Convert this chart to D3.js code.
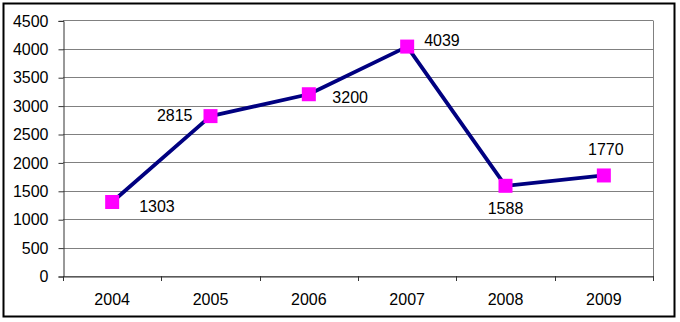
<!DOCTYPE html>
<html>
<head>
<meta charset="utf-8">
<script src="https://cdn.jsdelivr.net/npm/d3@7"></script>
<style>
  body { margin: 0; background: #fff; }
  svg text { font-family: "Liberation Sans", Arial, sans-serif; font-size: 16px; fill: #000; }
</style>
</head>
<body>
<script>
// chart data
var years = ["2004", "2005", "2006", "2007", "2008", "2009"];
var values = [1303, 2815, 3200, 4039, 1588, 1770];
var yTicks = [0, 500, 1000, 1500, 2000, 2500, 3000, 3500, 4000, 4500];
// label offsets relative to the point: [dx, dy, anchor]
var labelPos = [[27, 10, "start"], [-18, 4.5, "end"], [23.5, 8.5, "start"], [17, -0.5, "start"], [0, 28, "middle"], [2, -20.5, "middle"]];

var w = 680, h = 322;
var plotLeft = 63, plotRight = 653, plotTop = 20.4, plotBottom = 276;

var svg = d3.select("body").append("svg")
  .attr("width", w)
  .attr("height", h);

// outer frame
svg.append("rect")
  .attr("x", 3.5).attr("y", 3.5)
  .attr("width", 671).attr("height", 313)
  .attr("fill", "#fff")
  .attr("stroke", "#000")
  .attr("stroke-width", 2);

var xScale = d3.scaleBand()
  .domain(years)
  .range([plotLeft, plotRight]);

var yScale = d3.scaleLinear()
  .domain([0, 4500])
  .range([plotBottom, plotTop]);

// gridlines
svg.append("g")
  .selectAll("line")
  .data(yTicks)
  .enter()
  .append("line")
  .attr("x1", plotLeft).attr("x2", plotRight)
  .attr("y1", (d) => Math.round(yScale(d)) + 0.5)
  .attr("y2", (d) => Math.round(yScale(d)) + 0.5)
  .attr("stroke", "#808080")
  .attr("stroke-width", 1);

// right border of plot area
svg.append("line")
  .attr("x1", plotRight + 0.5).attr("x2", plotRight + 0.5)
  .attr("y1", Math.round(plotTop) + 0.5).attr("y2", Math.round(plotBottom) + 0.5)
  .attr("stroke", "#808080");

// axes
var yAxis = d3.axisLeft(yScale)
  .tickValues(yTicks)
  .tickFormat(d3.format("d"))
  .tickSize(5)
  .tickPadding(10);

var gy = svg.append("g")
  .attr("transform", "translate(" + (plotLeft + 0.5) + ",0.5)")
  .call(yAxis);

var xAxis = d3.axisBottom(xScale)
  .tickSize(0)
  .tickPadding(17);

var gx = svg.append("g")
  .attr("transform", "translate(0," + (Math.round(plotBottom) + 0.5) + ")")
  .call(xAxis);

gx.select(".domain").attr("stroke", "#333");
gy.select(".domain").attr("stroke", "#333");
gy.selectAll(".tick line").attr("stroke", "#333");

// category separator ticks on x axis
var bounds = years.map((d) => xScale(d)).concat([plotRight]);
svg.append("g")
  .selectAll("line")
  .data(bounds)
  .enter()
  .append("line")
  .attr("x1", (d) => Math.round(d) + 0.5)
  .attr("x2", (d) => Math.round(d) + 0.5)
  .attr("y1", Math.round(plotBottom))
  .attr("y2", Math.round(plotBottom) + 5)
  .attr("stroke", "#333");

var cx = (d, i) => xScale(years[i]) + xScale.bandwidth() / 2;

// line
var line = d3.line()
  .x((d, i) => cx(d, i))
  .y((d) => yScale(d));

svg.append("path")
  .datum(values)
  .attr("d", line)
  .attr("fill", "none")
  .attr("stroke", "#000080")
  .attr("stroke-width", 3.8)
  .attr("stroke-linejoin", "round");

// markers
svg.selectAll("rect.marker")
  .data(values)
  .enter()
  .append("rect")
  .attr("class", "marker")
  .attr("x", (d, i) => cx(d, i) - 7)
  .attr("y", (d) => yScale(d) - 7)
  .attr("width", 14)
  .attr("height", 14)
  .attr("fill", "#ff00ff");

// data labels
svg.selectAll("text.label")
  .data(values)
  .enter()
  .append("text")
  .attr("class", "label")
  .attr("x", (d, i) => cx(d, i) + labelPos[i][0])
  .attr("y", (d, i) => yScale(d) + labelPos[i][1])
  .attr("text-anchor", (d, i) => labelPos[i][2])
  .text((d) => d);
</script>
</body>
</html>
